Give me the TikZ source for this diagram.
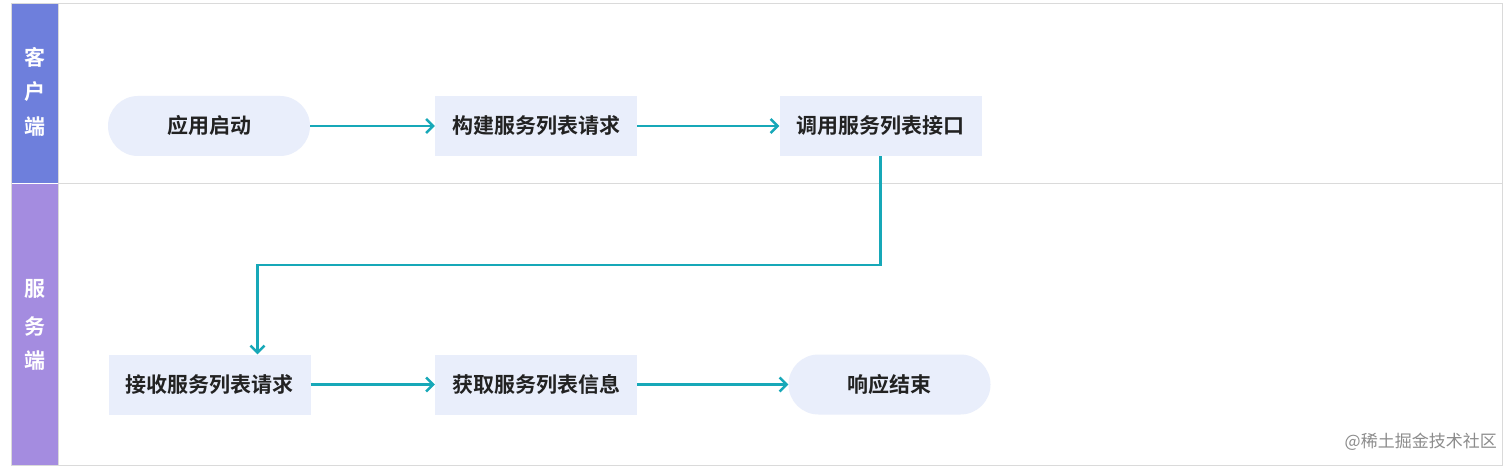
\documentclass[tikz,border=0pt]{standalone}
\usepackage{fontspec}
\newfontfamily\cjk{Noto Sans CJK SC}
\newfontfamily\cjkb{Noto Sans CJK SC Bold}
\usetikzlibrary{arrows.meta}
\definecolor{bandA}{HTML}{6E7FDC}
\definecolor{bandB}{HTML}{A48CE0}
\definecolor{boxfill}{HTML}{E9EEFB}
\definecolor{flow}{HTML}{17A8B8}
\definecolor{frame}{HTML}{DADADA}
\definecolor{txt}{HTML}{222222}
\tikzset{
  stepbox/.style={fill=boxfill, minimum width=202pt, minimum height=60pt, inner sep=0pt, font=\cjkb\fontsize{21}{25}\selectfont, text=txt},
  termbox/.style={stepbox, rounded corners=30pt},
  flowline/.style={draw=flow, line width=2.5pt, -{Straight Barb[length=7pt,width=14pt,line width=2.5pt]}},
  bandlabel/.style={font=\cjkb\fontsize{21}{25}\selectfont, text=white, inner sep=0pt}
}
\begin{document}
\begin{tikzpicture}[x=1pt,y=-1pt]
\useasboundingbox (0,0) rectangle (1512,470);
\fill[white] (0,0) rectangle (1512,470);
% lanes
\fill[bandA] (11,4) rectangle (58,183);
\fill[bandB] (11,184) rectangle (58,465);
\draw[frame, line width=1pt] (11,4) rectangle (1502,465);
\draw[frame, line width=1pt] (58,183.5) -- (1502,183.5);
\draw[frame, line width=1pt] (58,4) -- (58,465);
% band labels
\node[bandlabel] (c1) at (34.5,57) {客};
\node[bandlabel] (c2) at (34.5,92) {户};
\node[bandlabel] (c3) at (34.5,127) {端};
\node[bandlabel] (s1) at (34.5,289) {服};
\node[bandlabel] (s2) at (34.5,326) {务};
\node[bandlabel] (s3) at (34.5,361) {端};
% nodes
\node[termbox] (a) at (209,126) {应用启动};
\node[stepbox] (b) at (536,126) {构建服务列表请求};
\node[stepbox] (c) at (880.5,126) {调用服务列表接口};
\node[stepbox] (d) at (209.5,384.5) {接收服务列表请求};
\node[stepbox] (e) at (536,384.5) {获取服务列表信息};
\node[termbox] (f) at (889.5,384.5) {响应结束};
% connectors
\coordinate (k1) at (880.5,265);
\coordinate (k2) at (257.5,265);
\draw[flowline] (a.east) -- (b.west);
\draw[flowline] (b.east) -- (c.west);
\draw[flowline] (c.south) -- (k1) -- (k2) -- (k2 |- d.north);
\draw[flowline] (d.east) -- (e.west);
\draw[flowline] (e.east) -- (f.west);
% watermark
\node[font=\cjk\fontsize{17}{20}\selectfont, text=black!45, anchor=east, inner sep=0pt] (wm) at (1497,442) {@稀土掘金技术社区};
\end{tikzpicture}
\end{document}
